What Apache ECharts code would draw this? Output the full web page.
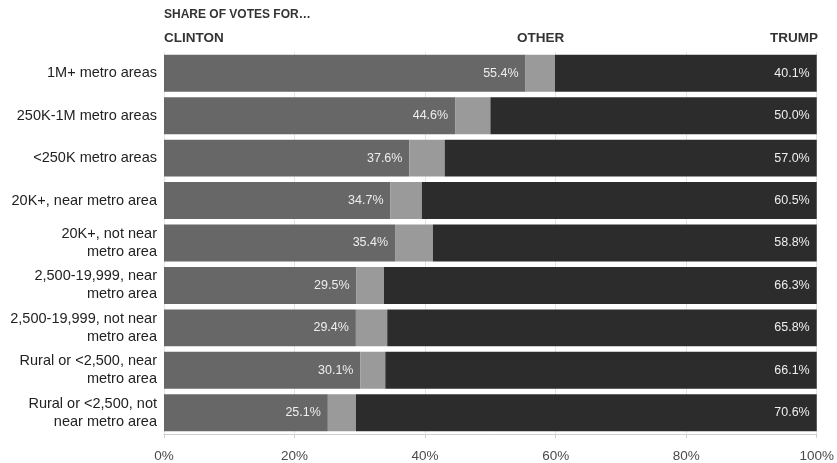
<!DOCTYPE html>
<html><head><meta charset="utf-8">
<script src="https://cdn.jsdelivr.net/npm/echarts@6/dist/echarts.min.js"></script>
<style>html,body{margin:0;padding:0;background:#fff}#c{width:837px;height:463px}</style>
</head><body><div id="c"></div>
<script>
const categories = [
  "1M+ metro areas",
  "250K-1M metro areas",
  "<250K metro areas",
  "20K+, near metro area",
  "20K+, not near\nmetro area",
  "2,500-19,999, near\nmetro area",
  "2,500-19,999, not near\nmetro area",
  "Rural or <2,500, near\nmetro area",
  "Rural or <2,500, not\nnear metro area"
];
const clinton = [55.4, 44.6, 37.6, 34.7, 35.4, 29.5, 29.4, 30.1, 25.1];
const trump = [40.1, 50.0, 57.0, 60.5, 58.8, 66.3, 65.8, 66.1, 70.6];
const other = [4.5, 5.4, 5.4, 4.8, 5.8, 4.2, 4.8, 3.8, 4.3];
const xTicks = [0, 20, 40, 60, 80, 100];

const chart = echarts.init(document.getElementById('c'), null, {renderer: 'canvas'});
const font = "'Liberation Sans', Arial, sans-serif";
const lbl = {
  show: true, position: 'insideRight', distance: 7,
  color: '#eeeeee', fontSize: 12.5, fontFamily: font,
  formatter: p => p.value.toFixed(1) + '%'
};
chart.setOption({
  animation: false,
  grid: {left: 164, right: 19, top: 52, bottom: 28, containLabel: false},
  xAxis: {
    type: 'value', min: 0, max: 100, interval: 20,
    axisLine: {show: true, lineStyle: {color: '#cfcfcf'}},
    axisTick: {show: true, length: 4, lineStyle: {color: '#cfcfcf'}},
    splitLine: {show: true, lineStyle: {color: '#e4e4e4'}},
    axisLabel: {color: '#4a4a4a', fontSize: 13.5, fontFamily: font, margin: 15,
      formatter: v => xTicks.includes(v) ? v + '%' : ''}
  },
  yAxis: {
    type: 'category', data: categories, inverse: true,
    axisLine: {show: false}, axisTick: {show: false},
    axisLabel: {color: '#222', fontSize: 14.5, fontFamily: font, margin: 7,
      lineHeight: 18, align: 'right'}
  },
  series: [
    {name: 'Clinton', type: 'bar', stack: 's', data: clinton, barCategoryGap: '13%',
      itemStyle: {color: '#676767'}, label: lbl},
    {name: 'Other', type: 'bar', stack: 's', data: other,
      itemStyle: {color: '#9a9a9a'}},
    {name: 'Trump', type: 'bar', stack: 's', data: trump,
      itemStyle: {color: '#2c2c2c'}, label: lbl}
  ],
  graphic: [
    {type: 'text', left: 164, top: 9, style: {text: 'SHARE OF VOTES FOR…', fill: '#333', font: 'bold 12px ' + font}},
    {type: 'text', left: 164, top: 31, style: {text: 'CLINTON', fill: '#333', font: 'bold 13.5px ' + font}},
    {type: 'text', left: 517, top: 31, style: {text: 'OTHER', fill: '#333', font: 'bold 13.5px ' + font}},
    {type: 'text', right: 19, top: 31, style: {text: 'TRUMP', fill: '#333', font: 'bold 13.5px ' + font}}
  ]
});
</script></body></html>
